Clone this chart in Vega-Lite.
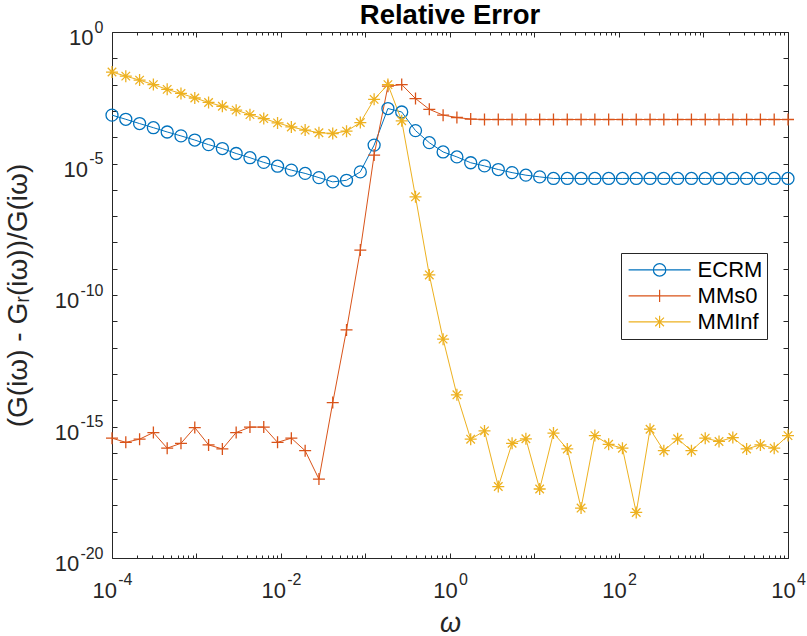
{
  "$schema": "https://vega.github.io/schema/vega-lite/v6.json",
  "width": 676,
  "height": 526,
  "autosize": "none",
  "padding": {"left": 112, "top": 32, "right": 19, "bottom": 78},
  "background": "white",
  "title": {
    "text": "Relative Error",
    "font": "Liberation Sans",
    "fontSize": 27.5,
    "fontWeight": "bold",
    "color": "#000000",
    "anchor": "middle",
    "offset": -10
  },
  "data": {
    "values": [
      {"s": "ECRM", "w": 0.0001, "e": 6.9e-4},
      {"s": "ECRM", "w": 0.00014563, "e": 4.8e-4},
      {"s": "ECRM", "w": 0.0002121, "e": 3.3e-4},
      {"s": "ECRM", "w": 0.00030888, "e": 2.3e-4},
      {"s": "ECRM", "w": 0.00044984, "e": 1.58e-4},
      {"s": "ECRM", "w": 0.00065513, "e": 1.12e-4},
      {"s": "ECRM", "w": 0.0009541, "e": 7.8e-5},
      {"s": "ECRM", "w": 0.0013895, "e": 5.2e-5},
      {"s": "ECRM", "w": 0.0020236, "e": 3.7e-5},
      {"s": "ECRM", "w": 0.0029471, "e": 2.4e-5},
      {"s": "ECRM", "w": 0.0042919, "e": 1.66e-5},
      {"s": "ECRM", "w": 0.0062506, "e": 1.1e-5},
      {"s": "ECRM", "w": 0.009103, "e": 7.9e-6},
      {"s": "ECRM", "w": 0.013257, "e": 5.6e-6},
      {"s": "ECRM", "w": 0.019307, "e": 4.2e-6},
      {"s": "ECRM", "w": 0.028118, "e": 2.9e-6},
      {"s": "ECRM", "w": 0.040949, "e": 2.0e-6},
      {"s": "ECRM", "w": 0.059636, "e": 2.3e-6},
      {"s": "ECRM", "w": 0.086851, "e": 4.8e-6},
      {"s": "ECRM", "w": 0.12649, "e": 5.0e-5},
      {"s": "ECRM", "w": 0.18421, "e": 1.23e-3},
      {"s": "ECRM", "w": 0.26827, "e": 9.1e-4},
      {"s": "ECRM", "w": 0.39069, "e": 1.78e-4},
      {"s": "ECRM", "w": 0.56899, "e": 6.2e-5},
      {"s": "ECRM", "w": 0.82864, "e": 2.75e-5},
      {"s": "ECRM", "w": 1.2068, "e": 1.78e-5},
      {"s": "ECRM", "w": 1.7575, "e": 1.07e-5},
      {"s": "ECRM", "w": 2.5595, "e": 8.1e-6},
      {"s": "ECRM", "w": 3.7276, "e": 5.9e-6},
      {"s": "ECRM", "w": 5.4287, "e": 4.5e-6},
      {"s": "ECRM", "w": 7.906, "e": 3.6e-6},
      {"s": "ECRM", "w": 11.514, "e": 3.1e-6},
      {"s": "ECRM", "w": 16.768, "e": 2.7e-6},
      {"s": "ECRM", "w": 24.421, "e": 2.7e-6},
      {"s": "ECRM", "w": 35.565, "e": 2.7e-6},
      {"s": "ECRM", "w": 51.795, "e": 2.7e-6},
      {"s": "ECRM", "w": 75.431, "e": 2.7e-6},
      {"s": "ECRM", "w": 109.85, "e": 2.7e-6},
      {"s": "ECRM", "w": 159.99, "e": 2.7e-6},
      {"s": "ECRM", "w": 232.99, "e": 2.7e-6},
      {"s": "ECRM", "w": 339.32, "e": 2.7e-6},
      {"s": "ECRM", "w": 494.17, "e": 2.7e-6},
      {"s": "ECRM", "w": 719.69, "e": 2.7e-6},
      {"s": "ECRM", "w": 1048.1, "e": 2.7e-6},
      {"s": "ECRM", "w": 1526.4, "e": 2.7e-6},
      {"s": "ECRM", "w": 2223, "e": 2.7e-6},
      {"s": "ECRM", "w": 3237.5, "e": 2.7e-6},
      {"s": "ECRM", "w": 4714.9, "e": 2.7e-6},
      {"s": "ECRM", "w": 6866.5, "e": 2.7e-6},
      {"s": "ECRM", "w": 10000, "e": 2.7e-6},

      {"s": "MMs0", "w": 0.0001, "e": 3.6e-16},
      {"s": "MMs0", "w": 0.00014563, "e": 2.5e-16},
      {"s": "MMs0", "w": 0.0002121, "e": 3.3e-16},
      {"s": "MMs0", "w": 0.00030888, "e": 5.9e-16},
      {"s": "MMs0", "w": 0.00044984, "e": 1.5e-16},
      {"s": "MMs0", "w": 0.00065513, "e": 2.3e-16},
      {"s": "MMs0", "w": 0.0009541, "e": 9.1e-16},
      {"s": "MMs0", "w": 0.0013895, "e": 2.0e-16},
      {"s": "MMs0", "w": 0.0020236, "e": 1.4e-16},
      {"s": "MMs0", "w": 0.0029471, "e": 5.9e-16},
      {"s": "MMs0", "w": 0.0042919, "e": 9.5e-16},
      {"s": "MMs0", "w": 0.0062506, "e": 9.5e-16},
      {"s": "MMs0", "w": 0.009103, "e": 2.5e-16},
      {"s": "MMs0", "w": 0.013257, "e": 3.6e-16},
      {"s": "MMs0", "w": 0.019307, "e": 1.2e-16},
      {"s": "MMs0", "w": 0.028118, "e": 1.0e-17},
      {"s": "MMs0", "w": 0.040949, "e": 8.1e-15},
      {"s": "MMs0", "w": 0.059636, "e": 4.7e-12},
      {"s": "MMs0", "w": 0.086851, "e": 5.1e-9},
      {"s": "MMs0", "w": 0.12649, "e": 2.1e-5},
      {"s": "MMs0", "w": 0.18421, "e": 8.7e-3},
      {"s": "MMs0", "w": 0.26827, "e": 1.0e-2},
      {"s": "MMs0", "w": 0.39069, "e": 2.95e-3},
      {"s": "MMs0", "w": 0.56899, "e": 1.15e-3},
      {"s": "MMs0", "w": 0.82864, "e": 6.9e-4},
      {"s": "MMs0", "w": 1.2068, "e": 5.6e-4},
      {"s": "MMs0", "w": 1.7575, "e": 4.9e-4},
      {"s": "MMs0", "w": 2.5595, "e": 4.7e-4},
      {"s": "MMs0", "w": 3.7276, "e": 4.7e-4},
      {"s": "MMs0", "w": 5.4287, "e": 4.7e-4},
      {"s": "MMs0", "w": 7.906, "e": 4.7e-4},
      {"s": "MMs0", "w": 11.514, "e": 4.7e-4},
      {"s": "MMs0", "w": 16.768, "e": 4.7e-4},
      {"s": "MMs0", "w": 24.421, "e": 4.7e-4},
      {"s": "MMs0", "w": 35.565, "e": 4.7e-4},
      {"s": "MMs0", "w": 51.795, "e": 4.7e-4},
      {"s": "MMs0", "w": 75.431, "e": 4.7e-4},
      {"s": "MMs0", "w": 109.85, "e": 4.7e-4},
      {"s": "MMs0", "w": 159.99, "e": 4.7e-4},
      {"s": "MMs0", "w": 232.99, "e": 4.7e-4},
      {"s": "MMs0", "w": 339.32, "e": 4.7e-4},
      {"s": "MMs0", "w": 494.17, "e": 4.7e-4},
      {"s": "MMs0", "w": 719.69, "e": 4.7e-4},
      {"s": "MMs0", "w": 1048.1, "e": 4.7e-4},
      {"s": "MMs0", "w": 1526.4, "e": 4.7e-4},
      {"s": "MMs0", "w": 2223, "e": 4.7e-4},
      {"s": "MMs0", "w": 3237.5, "e": 4.7e-4},
      {"s": "MMs0", "w": 4714.9, "e": 4.7e-4},
      {"s": "MMs0", "w": 6866.5, "e": 4.7e-4},
      {"s": "MMs0", "w": 10000, "e": 4.7e-4},

      {"s": "MMInf", "w": 0.0001, "e": 3.0e-2},
      {"s": "MMInf", "w": 0.00014563, "e": 2.1e-2},
      {"s": "MMInf", "w": 0.0002121, "e": 1.48e-2},
      {"s": "MMInf", "w": 0.00030888, "e": 1.0e-2},
      {"s": "MMInf", "w": 0.00044984, "e": 6.6e-3},
      {"s": "MMInf", "w": 0.00065513, "e": 4.6e-3},
      {"s": "MMInf", "w": 0.0009541, "e": 3.1e-3},
      {"s": "MMInf", "w": 0.0013895, "e": 2.1e-3},
      {"s": "MMInf", "w": 0.0020236, "e": 1.5e-3},
      {"s": "MMInf", "w": 0.0029471, "e": 1.07e-3},
      {"s": "MMInf", "w": 0.0042919, "e": 7.2e-4},
      {"s": "MMInf", "w": 0.0062506, "e": 5.1e-4},
      {"s": "MMInf", "w": 0.009103, "e": 3.5e-4},
      {"s": "MMInf", "w": 0.013257, "e": 2.45e-4},
      {"s": "MMInf", "w": 0.019307, "e": 1.86e-4},
      {"s": "MMInf", "w": 0.028118, "e": 1.48e-4},
      {"s": "MMInf", "w": 0.040949, "e": 1.38e-4},
      {"s": "MMInf", "w": 0.059636, "e": 1.7e-4},
      {"s": "MMInf", "w": 0.086851, "e": 3.6e-4},
      {"s": "MMInf", "w": 0.12649, "e": 2.75e-3},
      {"s": "MMInf", "w": 0.18421, "e": 1.0e-2},
      {"s": "MMInf", "w": 0.26827, "e": 4.2e-4},
      {"s": "MMInf", "w": 0.39069, "e": 5.4e-7},
      {"s": "MMInf", "w": 0.56899, "e": 5.8e-10},
      {"s": "MMInf", "w": 0.82864, "e": 2.1e-12},
      {"s": "MMInf", "w": 1.2068, "e": 1.6e-14},
      {"s": "MMInf", "w": 1.7575, "e": 3.3e-16},
      {"s": "MMInf", "w": 2.5595, "e": 6.8e-16},
      {"s": "MMInf", "w": 3.7276, "e": 5.2e-18},
      {"s": "MMInf", "w": 5.4287, "e": 2.3e-16},
      {"s": "MMInf", "w": 7.906, "e": 3.4e-16},
      {"s": "MMInf", "w": 11.514, "e": 4.2e-18},
      {"s": "MMInf", "w": 16.768, "e": 5.6e-16},
      {"s": "MMInf", "w": 24.421, "e": 1.4e-16},
      {"s": "MMInf", "w": 35.565, "e": 7.9e-19},
      {"s": "MMInf", "w": 51.795, "e": 4.5e-16},
      {"s": "MMInf", "w": 75.431, "e": 2.1e-16},
      {"s": "MMInf", "w": 109.85, "e": 1.5e-16},
      {"s": "MMInf", "w": 159.99, "e": 5.4e-19},
      {"s": "MMInf", "w": 232.99, "e": 7.9e-16},
      {"s": "MMInf", "w": 339.32, "e": 1.2e-16},
      {"s": "MMInf", "w": 494.17, "e": 3.4e-16},
      {"s": "MMInf", "w": 719.69, "e": 1.2e-16},
      {"s": "MMInf", "w": 1048.1, "e": 3.6e-16},
      {"s": "MMInf", "w": 1526.4, "e": 2.7e-16},
      {"s": "MMInf", "w": 2223, "e": 3.8e-16},
      {"s": "MMInf", "w": 3237.5, "e": 1.4e-16},
      {"s": "MMInf", "w": 4714.9, "e": 2.0e-16},
      {"s": "MMInf", "w": 6866.5, "e": 1.5e-16},
      {"s": "MMInf", "w": 10000, "e": 4.5e-16}
    ]
  },
  "layer": [
    {
      "layer": [
        {
          "mark": {"type": "line", "strokeWidth": 1, "clip": false},
          "encoding": {
            "x": {
              "field": "w",
              "type": "quantitative",
              "scale": {"type": "log", "domain": [0.0001, 10000], "nice": false},
              "axis": {
                "orient": "bottom",
                "values": [0.0001, 0.01, 1, 100, 10000],
                "labelExpr": "'10'",
                "ticks": false,
                "labelAlign": "right",
                "labelBaseline": "alphabetic",
                "labelPadding": 39,
                "labelOffset": {"condition": {"test": "datum.value < 0.1", "value": 4.5}, "value": 7.2},
                "labelFlush": false,
                "labelOverlap": false,
                "title": "ω",
                "titleFontStyle": "italic",
                "titleFontSize": 27,
                "titleX": 338,
                "titleY": 73,
                "titleBaseline": "alphabetic"
              }
            },
            "y": {
              "field": "e",
              "type": "quantitative",
              "scale": {"type": "log", "domain": [1e-20, 1], "nice": false},
              "axis": {
                "orient": "left",
                "values": [1, 1e-5, 1e-10, 1e-15, 1e-20],
                "labelExpr": "'10'",
                "ticks": false,
                "labelAlign": "right",
                "labelBaseline": "alphabetic",
                "labelOffset": 12.7,
                "labelPadding": {"condition": [{"test": "datum.value == 1", "value": 19.1}, {"test": "datum.value == 1e-5", "value": 24.4}], "value": 33.3},
                "labelOverlap": false,
                "labelFlush": false,
                "title": "(G(iω) - Gᵣ(iω))/G(iω)",
                "titleFontSize": 28,
                "titleAngle": -90,
                "titleX": -86,
                "titleY": 263,
                "titleAlign": "center",
                "titleBaseline": "alphabetic"
              }
            },
            "color": {
              "field": "s",
              "type": "nominal",
              "scale": {"domain": ["ECRM", "MMs0", "MMInf"], "range": ["#0072BD", "#D95319", "#EDB120"]},
              "legend": {
                "title": null,
                "orient": "none",
                "legendX": 509,
                "legendY": 221,
                "padding": 4,
                "symbolOffset": 2.6,
                "clipHeight": 25.8,
                "rowPadding": 0,
                "strokeColor": "#262626",
                "fillColor": "#ffffff",
                "labelFont": "Liberation Sans",
                "labelFontSize": 22,
                "labelColor": "#000000",
                "labelOffset": 6,
                "symbolSize": 3844,
                "symbolStrokeWidth": 1.2,
                "encoding": {
                  "symbols": {
                    "shape": {"value": {"expr": "datum.value == 'ECRM' ? 'M-1,0H1M0.2,0A0.2,0.2,0,1,1,-0.2,0A0.2,0.2,0,1,1,0.2,0' : datum.value == 'MMs0' ? 'M-1,0H1M0,-0.2V0.2' : 'M-1,0H1M0,-0.2V0.2M-0.14,-0.14L0.14,0.14M-0.14,0.14L0.14,-0.14'"}},
                    "fill": {"value": "transparent"}
                  }
                }
              }
            }
          }
        },
        {
          "transform": [{"filter": "datum.s == 'ECRM'"}],
          "mark": {"type": "point", "shape": "circle", "filled": false, "size": 144, "strokeWidth": 1.3, "opacity": 1, "clip": false},
          "encoding": {
            "x": {"field": "w", "type": "quantitative"},
            "y": {"field": "e", "type": "quantitative"},
            "color": {"field": "s", "type": "nominal"}
          }
        },
        {
          "transform": [{"filter": "datum.s == 'MMs0'"}],
          "mark": {"type": "point", "shape": "M-1,0H1M0,-1V1", "filled": false, "size": 144, "strokeWidth": 1.3, "opacity": 1, "clip": false},
          "encoding": {
            "x": {"field": "w", "type": "quantitative"},
            "y": {"field": "e", "type": "quantitative"},
            "color": {"field": "s", "type": "nominal"}
          }
        },
        {
          "transform": [{"filter": "datum.s == 'MMInf'"}],
          "mark": {"type": "point", "shape": "M-1,0H1M0,-1V1M-0.71,-0.71L0.71,0.71M-0.71,0.71L0.71,-0.71", "filled": false, "size": 144, "strokeWidth": 1.3, "opacity": 1, "clip": false},
          "encoding": {
            "x": {"field": "w", "type": "quantitative"},
            "y": {"field": "e", "type": "quantitative"},
            "color": {"field": "s", "type": "nominal"}
          }
        }
      ]
    },
    {
      "mark": {"type": "point", "opacity": 0},
      "encoding": {
        "x": {
          "field": "w",
          "type": "quantitative",
          "axis": {
            "orient": "bottom",
            "values": [0.0001, 0.01, 1, 100, 10000],
            "labelExpr": "datum.value == 0.0001 ? '-4' : datum.value == 0.01 ? '-2' : datum.value == 1 ? '0' : datum.value == 100 ? '2' : '4'",
            "ticks": false,
            "domain": false,
            "labelAlign": "left",
            "labelBaseline": "alphabetic",
            "labelPadding": 26.3,
            "labelOffset": {"condition": {"test": "datum.value < 0.1", "value": 5.7}, "value": 8.4},
            "labelFontSize": 16,
            "labelFlush": false,
            "labelOverlap": false,
            "title": null
          }
        },
        "y": {
          "field": "e",
          "type": "quantitative",
          "axis": {
            "orient": "left",
            "values": [1, 1e-5, 1e-10, 1e-15, 1e-20],
            "labelExpr": "datum.value == 1 ? '0' : datum.value == 1e-5 ? '-5' : datum.value == 1e-10 ? '-10' : datum.value == 1e-15 ? '-15' : '-20'",
            "ticks": false,
            "domain": false,
            "labelAlign": "right",
            "labelBaseline": "alphabetic",
            "labelPadding": 9,
            "labelOffset": 0,
            "labelFontSize": 16,
            "labelFlush": false,
            "labelOverlap": false,
            "title": null
          }
        }
      }
    },
    {
      "mark": {"type": "point", "opacity": 0},
      "encoding": {
        "x": {
          "field": "w",
          "type": "quantitative",
          "axis": {
            "orient": "bottom",
            "values": [0.0001, 0.0002, 0.0003, 0.0004, 0.0005, 0.0006, 0.0007, 0.0008, 0.0009, 0.001, 0.002, 0.003, 0.004, 0.005, 0.006, 0.007, 0.008, 0.009, 0.01, 0.02, 0.03, 0.04, 0.05, 0.06, 0.07, 0.08, 0.09, 0.1, 0.2, 0.3, 0.4, 0.5, 0.6, 0.7, 0.8, 0.9, 1, 2, 3, 4, 5, 6, 7, 8, 9, 10, 20, 30, 40, 50, 60, 70, 80, 90, 100, 200, 300, 400, 500, 600, 700, 800, 900, 1000, 2000, 3000, 4000, 5000, 6000, 7000, 8000, 9000, 10000],
            "labels": false,
            "domain": false,
            "tickSize": {"condition": {"test": "indexof([0.0001, 0.001, 0.01, 0.1, 1, 10, 100, 1000, 10000], datum.value) >= 0", "value": -5}, "value": -3},
            "title": null
          }
        },
        "y": {
          "field": "e",
          "type": "quantitative",
          "axis": {
            "orient": "left",
            "values": [1, 0.1, 0.01, 0.001, 0.0001, 1e-5, 1e-6, 1e-7, 1e-8, 1e-9, 1e-10, 1e-11, 1e-12, 1e-13, 1e-14, 1e-15, 1e-16, 1e-17, 1e-18, 1e-19, 1e-20],
            "labels": false,
            "domain": false,
            "tickSize": -5,
            "title": null
          }
        }
      }
    },
    {
      "mark": {"type": "point", "opacity": 0},
      "encoding": {
        "x": {
          "field": "w",
          "type": "quantitative",
          "axis": {
            "orient": "top",
            "values": [0.0001, 0.0002, 0.0003, 0.0004, 0.0005, 0.0006, 0.0007, 0.0008, 0.0009, 0.001, 0.002, 0.003, 0.004, 0.005, 0.006, 0.007, 0.008, 0.009, 0.01, 0.02, 0.03, 0.04, 0.05, 0.06, 0.07, 0.08, 0.09, 0.1, 0.2, 0.3, 0.4, 0.5, 0.6, 0.7, 0.8, 0.9, 1, 2, 3, 4, 5, 6, 7, 8, 9, 10, 20, 30, 40, 50, 60, 70, 80, 90, 100, 200, 300, 400, 500, 600, 700, 800, 900, 1000, 2000, 3000, 4000, 5000, 6000, 7000, 8000, 9000, 10000],
            "labels": false,
            "tickSize": {"condition": {"test": "indexof([0.0001, 0.001, 0.01, 0.1, 1, 10, 100, 1000, 10000], datum.value) >= 0", "value": -5}, "value": -3},
            "title": null
          }
        },
        "y": {
          "field": "e",
          "type": "quantitative",
          "axis": {
            "orient": "right",
            "values": [1, 0.1, 0.01, 0.001, 0.0001, 1e-5, 1e-6, 1e-7, 1e-8, 1e-9, 1e-10, 1e-11, 1e-12, 1e-13, 1e-14, 1e-15, 1e-16, 1e-17, 1e-18, 1e-19, 1e-20],
            "labels": false,
            "tickSize": -5,
            "title": null
          }
        }
      }
    }
  ],
  "resolve": {"axis": {"x": "independent", "y": "independent"}},
  "config": {
    "font": "Liberation Sans",
    "view": {"stroke": null},
    "axis": {
      "grid": false,
      "domainColor": "#262626",
      "domainWidth": 1,
      "tickColor": "#262626",
      "tickWidth": 1,
      "labelColor": "#262626",
      "labelFont": "Liberation Sans",
      "labelFontSize": 22,
      "titleColor": "#262626",
      "titleFont": "Liberation Sans",
      "titleFontWeight": "normal"
    }
  }
}
